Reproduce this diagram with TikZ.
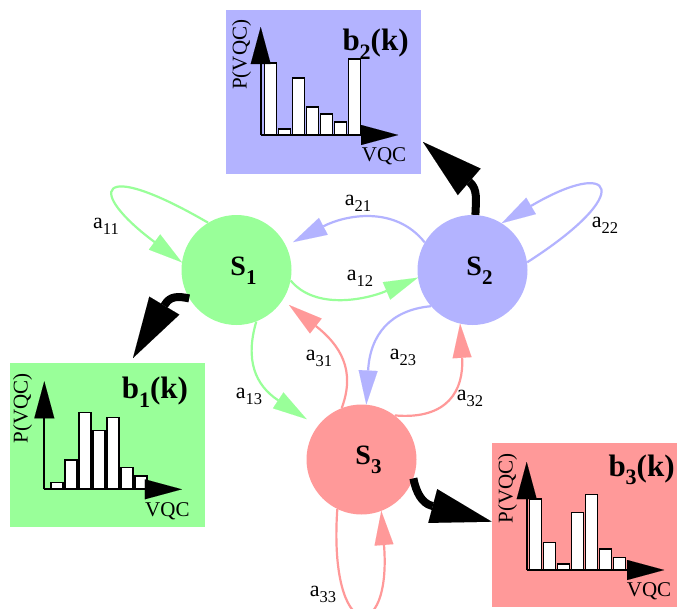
\documentclass[tikz,border=0pt]{standalone}
\usepackage{fontspec}
\setmainfont{Liberation Serif}
\usetikzlibrary{arrows.meta}

\definecolor{stgreen}{RGB}{153,255,153}
\definecolor{stblue}{RGB}{179,179,255}
\definecolor{stred}{RGB}{255,153,153}

% label macros
\newcommand\translab[1]{a\raisebox{-6pt}{\fontsize{16.5}{16.5}\selectfont #1}}
\newcommand\statelab[1]{\fontsize{28}{28}\selectfont\bfseries S\raisebox{-8.6pt}{\fontsize{21}{21}\selectfont #1}}
\newcommand\emitlab[1]{\fontsize{31}{31}\selectfont\bfseries b\raisebox{-8.3pt}{\fontsize{22}{22}\selectfont #1}(k)}

% histogram: #1,#2 axis origin, #3 offset of first bar, #4 bar heights
\newcommand\histo[4]{%
  \foreach \h [count=\i from 0] in {#4}
    \draw[histbar] ({#1+#3+14*\i},#2) rectangle ++(12,-\h);
  \draw[histaxis] (#1,#2) -- ++(0,-108);
  \draw[histaxis] (#1,#2) -- ++(137.5,0);
}

\begin{document}
\begin{tikzpicture}[x=1pt,y=-1pt,
  statenode/.style={circle, minimum size=110pt, inner sep=0pt},
  emitbox/.style={rectangle, minimum width=195pt, minimum height=164pt, inner sep=0pt, anchor=north west},
  transarrow/.style={line width=2.2pt, -{Triangle[length=34pt,width=19pt,line width=0.01pt]}},
  emitarrow/.style={line width=8pt, line join=round, -{Triangle[length=61pt,width=35pt,line width=0.01pt]}},
  histaxis/.style={line width=2.3pt, -{Triangle[length=37pt,width=20pt,line width=0.01pt]}},
  histbar/.style={draw=black, line width=1.2pt, fill=white},
  lab/.style={inner sep=0pt, font=\fontsize{22}{22}\selectfont},
  axlab/.style={inner sep=0pt, anchor=base west, font=\fontsize{21}{21}\selectfont},
  titlelab/.style={inner sep=0pt, anchor=base west}]

\useasboundingbox (0,0) rectangle (677,608);
\clip (0,0) rectangle (677,608);
\fill[white] (0,0) rectangle (677,608);

% emission boxes
\node[emitbox, fill=stblue]  (b2) at (226,10)  {};
\node[emitbox, fill=stgreen] (b1) at (10,363)  {};
\node[emitbox, fill=stred]   (b3) at (492,443) {};

% histograms
\histo{260.7}{135}{3.6}{72,6,57,28,21,13,76}
\histo{44.3}{489.3}{6.7}{7,29.3,76.7,58.7,72,21.7,13.3}
\histo{526.7}{570}{2.6}{71,27.3,6,57.3,75.7,21,12.7}

\node[titlelab] (b2t) at (342.3,50.7) {\emitlab{2}};
\node[titlelab] (b1t) at (121.7,398.7) {\emitlab{1}};
\node[titlelab] (b3t) at (608.3,476) {\emitlab{3}};

\node[axlab, rotate=90] (b2y) at (246.7,90) {P(VQC)};
\node[axlab, rotate=90] (b1y) at (27.7,443.3) {P(VQC)};
\node[axlab, rotate=90] (b3y) at (512.7,523.3) {P(VQC)};
\node[axlab] (b2x) at (361.7,161.7) {VQC};
\node[axlab] (b1x) at (145,516.7) {VQC};
\node[axlab] (b3x) at (626.7,596.7) {VQC};

% states
\node[statenode, fill=stgreen, label={[inner sep=0pt, xshift=7pt, yshift=-0.5pt]center:\statelab{1}}] (S1) at (236.5,270) {};
\node[statenode, fill=stblue,  label={[inner sep=0pt, xshift=7pt, yshift=-0.5pt]center:\statelab{2}}] (S2) at (472.5,270) {};
\node[statenode, fill=stred,   label={[inner sep=0pt, xshift=7pt, yshift=-0.5pt]center:\statelab{3}}] (S3) at (361.5,459.5) {};

% transitions
\draw[transarrow, stgreen] (S1.121) .. controls (95,157) and (86,191) .. (S1.172);
\draw[transarrow, stblue, shorten >=8pt] (S2.150) .. controls (395,205) and (345,215) .. (S1.26);
\draw[transarrow, stgreen] (S1.-11) .. controls (315,310) and (365,300) .. (S2.188);
\draw[transarrow, stblue] (S2.8) .. controls (637,192) and (614,157) .. (S2.58);
\draw[transarrow, stgreen, shorten >=13pt] (S1.-69) .. controls (245,360) and (255,385) .. (S3.143);
\draw[transarrow, stred, shorten >=8pt] (S3.111) .. controls (356,370) and (340,345) .. (S1.-33);
\draw[transarrow, stblue] (S2.221) .. controls (390,310) and (370,335) .. (S3.85);
\draw[transarrow, stred] (S3.53) .. controls (448,420) and (464,390) .. (S2.257);
\draw[transarrow, stred] (S3.244) .. controls (328,645) and (392,645) .. (S3.291);

\node[lab] (l11) at (106,226) {\translab{11}};
\node[lab] (l21) at (358,203) {\translab{21}};
\node[lab] (l12) at (360,278) {\translab{12}};
\node[lab] (l22) at (605,225) {\translab{22}};
\node[lab] (l13) at (249,396) {\translab{13}};
\node[lab] (l31) at (319,358) {\translab{31}};
\node[lab] (l23) at (403,357) {\translab{23}};
\node[lab] (l32) at (470,398) {\translab{32}};
\node[lab] (l33) at (323,594) {\translab{33}};

% emissions
\coordinate (b2in) at (423,142);
\coordinate (b1in) at (133,358);
\coordinate (b3in) at (491.7,521.7);
\draw[emitarrow] (S2.87) .. controls (476,200) and (477.6,189) .. (470,182.5) -- (b2in);
\draw[emitarrow] (S1.211) .. controls (178,296) and (170,296) .. (165,304.5) -- (b1in);
\draw[emitarrow] (S3.-20) .. controls (416,492) and (421.8,503.1) .. (431.5,505.7) -- (b3in);

\end{tikzpicture}
\end{document}
